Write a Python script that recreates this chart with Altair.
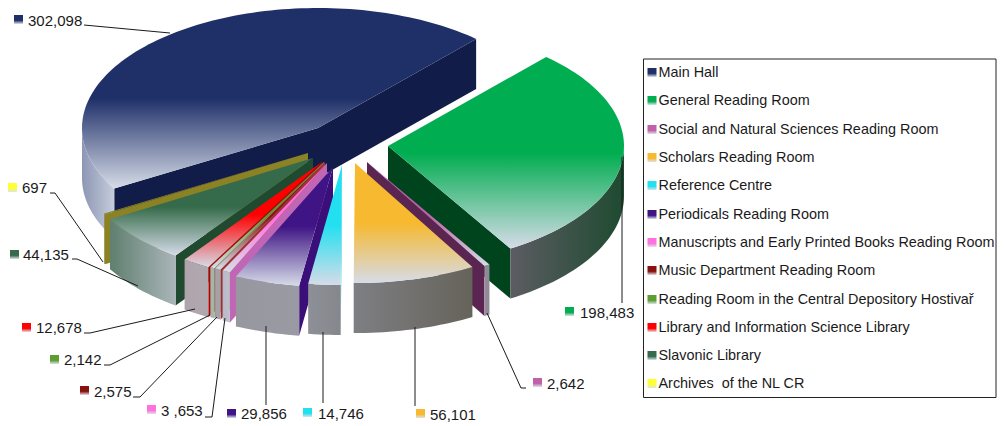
import math
import altair as alt
import pandas as pd

names = ["Main Hall", "General Reading Room", "Social and Natural Sciences Reading Room",
         "Scholars Reading Room", "Reference Centre", "Periodicals Reading Room",
         "Manuscripts and Early Printed Books Reading Room", "Music Department Reading Room",
         "Reading Room in the Central Depository Hostivař", "Library and Information Science Library",
         "Slavonic Library", "Archives \u00a0of the NL CR"]
values = [302098, 198483, 2642, 56101, 14746, 29856, 3653, 2575, 2142, 12678, 44135, 697]
value_labels = ["302,098", "198,483", "2,642", "56,101", "14,746", "29,856", "3 ,653", "2,575",
                "2,142", "12,678", "44,135", "697"]
colors = ["#1f3069", "#00ad50", "#c060a8", "#f6b92f", "#22e0f0", "#3f1484", "#ff70e0", "#8b1010",
          "#5c9e30", "#ff0000", "#356b4a", "#ffff33"]
side_colors = ["#121c48", "#00441e", "#5a2550", "#c89a30", "#28cfe2", "#3a0f7a", "#c066b4", "#a03030",
               "#7d9b7a", "#b30000", "#204a30", "#8a8225"]
wall_left = ["#8d96b4", "#5c5c62", "#9a8aa0", "#7e7f84", "#8e9098", "#97979f", "#b8b8c8", "#a8a0a8",
             "#a8b4a8", "#b0a4ac", "#5f7f6f", "#8a8225"]
wall_right = ["#c5ccdc", "#1e4a30", "#8a8a90", "#66635a", "#85878c", "#9a9aa4", "#c0c0cc", "#a8a0a8",
              "#a8b4a8", "#b0a8b0", "#aab5b9", "#8a8225"]
# exploded centre of each slice (image pixels)
apex_x = [318, 388, 367, 355, 342, 333, 327, 325, 324, 322, 313, 308]
apex_y = [128, 146, 162, 163, 165, 167, 163, 162, 162, 162, 158, 153]
# pie geometry
RX, RY, DEPTH, START = 236, 120, 50, 210.3
# data label swatch left/top, text left/centre
lab_sx = [14, 565, 533, 416, 303, 227, 147, 80, 50, 22, 10, 8]
lab_sy = [15, 307, 378, 409, 408, 409, 405, 386, 355, 323, 250, 183]
lab_tx = [28, 580, 547, 430, 318, 241, 161, 94, 64, 36, 23, 22]
lab_ty = [21, 313, 384, 415, 414, 414, 411, 392, 360, 328, 255, 188]
leaders = [
    [(84, 25), (170, 33)],
    [(622, 157), (622, 303)],
    [(487, 313), (521, 388), (526, 388)],
    [(415, 327), (415, 406)],
    [(323, 332), (323, 403)],
    [(266, 326), (266, 405)],
    [(205, 417), (212, 417), (225, 318)],
    [(133, 397), (140, 397), (217, 317)],
    [(104, 365), (110, 365), (210, 315)],
    [(84, 333), (90, 333), (195, 309)],
    [(72, 259), (77, 259), (138, 286)],
    [(50, 193), (55, 193), (103, 262)],
]
legend_y = [73, 101, 130, 158, 186, 215, 243, 271, 300, 328, 356, 384]
LEG_SHIFT = 5

W, H = 989, 418
X = alt.Scale(domain=[8, 8 + W], nice=False, zero=False)
Y = alt.Scale(domain=[8 + H, 8], nice=False, zero=False)


def enc(ch):
    return ch.encode(x=alt.X("x:Q", scale=X, axis=None),
                     y=alt.Y("y:Q", scale=Y, axis=None),
                     order=alt.Order("i:Q"))


def grad(stops, horizontal=False):
    return alt.Gradient(gradient="linear",
                        stops=[alt.GradientStop(offset=o, color=c) for o, c in stops],
                        x1=0, y1=0, x2=1 if horizontal else 0, y2=0 if horizontal else 1)


def poly(points, fill):
    df = pd.DataFrame({"x": [p[0] for p in points], "y": [p[1] for p in points],
                       "i": list(range(len(points)))})
    return enc(alt.Chart(df).mark_line(fill=fill, strokeWidth=0, interpolate="linear"))


def rim(k, a):
    r = math.radians(a)
    return (apex_x[k] + RX * math.cos(r), apex_y[k] - RY * math.sin(r))


def arc(k, a0, a1):
    n = max(2, int(abs(a1 - a0) / 1.5) + 1)
    return [rim(k, a0 + (a1 - a0) * j / n) for j in range(n + 1)]


def down(pts):
    return [(x, y + DEPTH) for x, y in pts]


total = sum(values)
spans = {}
cur = START
for k, v in enumerate(values):
    spans[k] = (cur, cur - 360 * v / total)
    cur = spans[k][1]

layers = []
paint = [0, 11, 10, 9, 8, 7, 1, 2, 3, 6, 5, 4]
for k in paint:
    a0, a1 = spans[k]  # clockwise: a0 > a1
    apex = (apex_x[k], apex_y[k])
    # radial faces
    if math.cos(math.radians(a0)) < 0:
        c = rim(k, a0)
        layers.append(poly([apex, c, (c[0], c[1] + DEPTH), (apex[0], apex[1] + DEPTH)], side_colors[k]))
    if math.cos(math.radians(a1)) > 0:
        c = rim(k, a1)
        layers.append(poly([apex, c, (c[0], c[1] + DEPTH), (apex[0], apex[1] + DEPTH)], side_colors[k]))
    # outer wall: only the part on the near half (180..360 degrees)
    lo, hi = (a1 % 360), (a0 % 360)
    if a1 < 0 <= a0:
        lo, hi = a1 + 360, a0 + 360
    if lo > hi:
        lo, hi = hi, lo + 0
    w0, w1 = max(lo, 180), min(hi, 360)
    if k == 0:
        w0, w1 = 180, a0
    if k == 1:
        w0, w1 = a1 + 360, 360
    if w1 > w0:
        top = arc(k, w0, w1)
        layers.append(poly(top + down(top)[::-1],
                           grad([(0, wall_left[k]), (1, wall_right[k])], horizontal=True)))
    # top face
    pts = [apex] + arc(k, a0, a1)
    light = "#d6dce8"
    top_fill = grad([(0, colors[k]), (0.5, colors[k]), (1, light)])
    if k == 11:
        top_fill = "#8a8225"
    layers.append(poly(pts, top_fill))

# leader lines
rows = []
for n, line in enumerate(leaders):
    for j, (x, y) in enumerate(line):
        rows.append({"x": x, "y": y, "i": j, "g": n})
layers.append(enc(alt.Chart(pd.DataFrame(rows)).mark_line(color="#1a1a1a", strokeWidth=1))
              .encode(detail="g:N"))

# swatches
for k in range(len(values)):
    sw = grad([(0, colors[k]), (0.6, colors[k]), (1, "#dfe3ea")])
    for sx, sy, size in [(lab_sx[k], lab_sy[k], 9), (652.5 - LEG_SHIFT, legend_y[k] - 5, 9)]:
        d = pd.DataFrame({"x": [sx], "x2": [sx + size], "y": [sy], "y2": [sy + size]})
        layers.append(alt.Chart(d).mark_rect(fill=sw, strokeWidth=0).encode(
            x=alt.X("x:Q", scale=X, axis=None), x2="x2:Q",
            y=alt.Y("y:Q", scale=Y, axis=None), y2="y2:Q"))

FONT = "Liberation Sans"
lab = pd.DataFrame({"x": lab_tx, "y": lab_ty, "t": value_labels})
layers.append(alt.Chart(lab).mark_text(align="left", baseline="middle", font=FONT, fontSize=15,
                                       color="#1a1a1a").encode(
    x=alt.X("x:Q", scale=X, axis=None), y=alt.Y("y:Q", scale=Y, axis=None), text="t:N"))
leg = pd.DataFrame({"x": [663.5 - LEG_SHIFT] * len(names), "y": legend_y, "t": names})
layers.append(alt.Chart(leg).mark_text(align="left", baseline="middle", font=FONT, fontSize=14.4,
                                       color="#1a1a1a").encode(
    x=alt.X("x:Q", scale=X, axis=None), y=alt.Y("y:Q", scale=Y, axis=None), text="t:N"))
# legend frame
fr = pd.DataFrame({"x": [648.5 - LEG_SHIFT], "x2": [996.0], "y": [59], "y2": [397.5]})
layers.append(alt.Chart(fr).mark_rect(fill="transparent", stroke="#222222", strokeWidth=1).encode(
    x=alt.X("x:Q", scale=X, axis=None), x2="x2:Q",
    y=alt.Y("y:Q", scale=Y, axis=None), y2="y2:Q"))

chart = alt.layer(*layers).properties(
    width=W, height=H, padding=0, autosize=alt.AutoSizeParams(type="none")
).configure_view(stroke=None)

chart.save("out.html", embed_options={"renderer": "svg", "actions": False})
